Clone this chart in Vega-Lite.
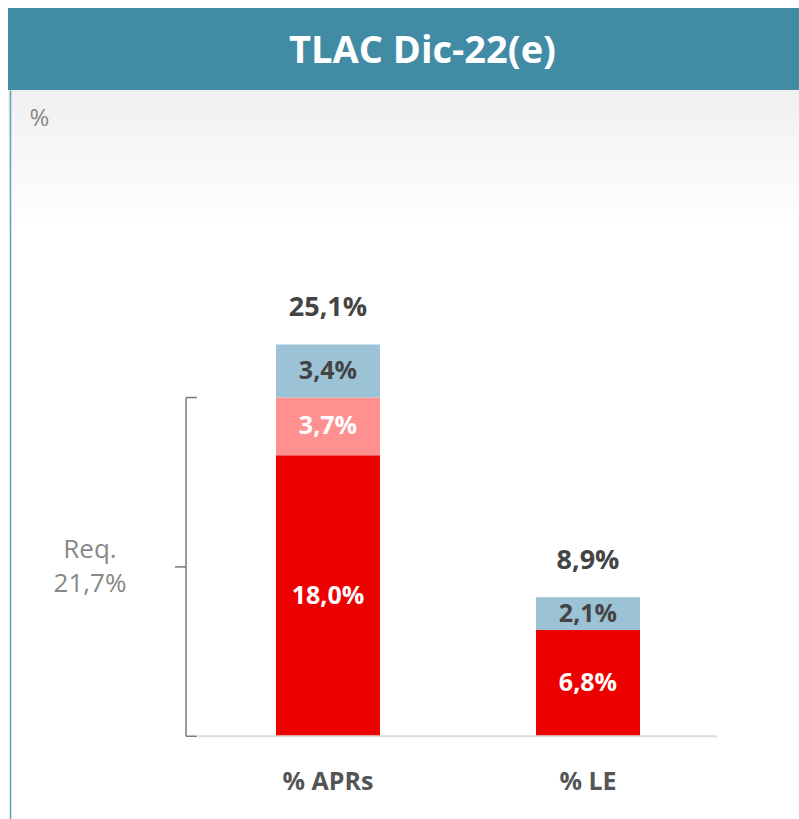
{
  "$schema": "https://vega.github.io/schema/vega-lite/v6.json",
  "padding": {"left": 8, "top": 8, "right": 0, "bottom": 0},
  "background": "#ffffff",
  "spacing": 0,
  "config": {
    "font": "Open Sans",
    "locale": {"number": {"decimal": ",", "thousands": ".", "grouping": [3], "currency": ["", "%"]}},
    "concat": {"spacing": 0}
  },
  "datasets": {
    "bars": [
      {"cat": "% APRs", "comp": "a", "value": 18.0},
      {"cat": "% APRs", "comp": "b", "value": 3.7},
      {"cat": "% APRs", "comp": "c", "value": 3.4},
      {"cat": "% LE", "comp": "a", "value": 6.8},
      {"cat": "% LE", "comp": "c", "value": 2.1}
    ],
    "req": [
      {"cat": "% APRs", "v": 0, "label": "Req.\n21,7%"},
      {"cat": "% APRs", "v": 21.7, "label": "Req.\n21,7%"}
    ],
    "base": [{"cat": "% APRs", "to": "% LE", "value": 0}]
  },
  "vconcat": [
    {
      "width": 791,
      "height": 82,
      "view": {"fill": "#428BA5", "stroke": null},
      "data": {"values": [{"title": "TLAC Dic-22(e)"}]},
      "mark": {"type": "text", "fontWeight": "bold", "fontSize": 38, "color": "#ffffff", "dx": 19, "dy": 3, "baseline": "middle", "align": "center"},
      "encoding": {"text": {"field": "title"}}
    },
    {
      "width": 791,
      "height": 729,
      "view": {"stroke": null, "fill": {"gradient": "linear", "x1": 0, "y1": 0, "x2": 0, "y2": 1, "stops": [{"offset": 0, "color": "#f0f0f0"}, {"offset": 0.19, "color": "#ffffff"}, {"offset": 1, "color": "#ffffff"}]}},
      "encoding": {
        "x": {
          "field": "cat", "type": "nominal",
          "scale": {"domain": ["% APRs", "% LE"], "paddingInner": 0.6, "paddingOuter": 0.821, "align": 0.6276},
          "axis": {"title": null, "domain": false, "ticks": false, "labelAngle": 0, "labelFontSize": 25, "labelFontWeight": "bold", "labelColor": "#555555", "labelPadding": 33, "offset": -83}
        },
        "y": {
          "field": "value", "type": "quantitative",
          "scale": {"domain": [-5.3, 41.4], "nice": false, "zero": false},
          "axis": {"title": "%", "titleAngle": 0, "titleX": 19, "titleY": 35, "titleAlign": "left", "titleBaseline": "alphabetic", "titleFontSize": 24, "titleFontWeight": "normal", "titleColor": "#888888", "labels": false, "ticks": false, "grid": false, "domainColor": "#5EA3B8", "domainWidth": 1.5, "offset": -2}
        }
      },
      "layer": [
        {
          "data": {"name": "bars"},
          "mark": {"type": "bar"},
          "encoding": {
            "y": {"field": "value", "type": "quantitative", "stack": "zero"},
            "color": {"field": "comp", "type": "nominal", "scale": {"domain": ["a", "b", "c"], "range": ["#EC0000", "#FF9090", "#9CC3D5"]}, "legend": null},
            "order": {"field": "comp"}
          }
        },
        {
          "data": {"name": "bars"},
          "mark": {"type": "text", "fontSize": 25, "fontWeight": "bold", "baseline": "middle"},
          "encoding": {
            "y": {"field": "value", "type": "quantitative", "stack": "zero", "bandPosition": 0.5},
            "detail": {"field": "comp"},
            "order": {"field": "comp"},
            "text": {"field": "value", "type": "quantitative", "format": "$.1f"},
            "color": {"condition": {"test": "datum.comp === 'c'", "value": "#444444"}, "value": "#ffffff"}
          }
        },
        {
          "data": {"name": "bars"},
          "mark": {"type": "text", "fontSize": 27, "fontWeight": "bold", "baseline": "middle", "dy": -36, "color": "#444444"},
          "encoding": {
            "y": {"aggregate": "sum", "field": "value", "type": "quantitative"},
            "text": {"aggregate": "sum", "field": "value", "type": "quantitative", "format": "$.1f"}
          }
        },
        {
          "data": {"name": "base"},
          "mark": {"type": "rule", "color": "#dddddd", "strokeWidth": 2},
          "encoding": {
            "x": {"field": "cat", "type": "nominal", "bandPosition": -0.75},
            "x2": {"field": "to", "bandPosition": 1.74}
          }
        },
        {
          "data": {"name": "req"},
          "mark": {"type": "rule", "color": "#777777", "strokeWidth": 1.5},
          "encoding": {
            "x": {"field": "cat", "type": "nominal", "bandPosition": -0.865},
            "y": {"aggregate": "min", "field": "v", "type": "quantitative"},
            "y2": {"aggregate": "max", "field": "v"}
          }
        },
        {
          "data": {"name": "req"},
          "mark": {"type": "rule", "color": "#777777", "strokeWidth": 1.5},
          "encoding": {
            "x": {"field": "cat", "type": "nominal", "bandPosition": -0.865},
            "x2": {"field": "cat", "bandPosition": -0.76},
            "y": {"field": "v", "type": "quantitative"}
          }
        },
        {
          "data": {"name": "req"},
          "mark": {"type": "rule", "color": "#777777", "strokeWidth": 1.5},
          "encoding": {
            "x": {"field": "cat", "type": "nominal", "bandPosition": -0.971},
            "x2": {"field": "cat", "bandPosition": -0.865},
            "y": {"aggregate": "mean", "field": "v", "type": "quantitative"}
          }
        },
        {
          "data": {"name": "req"},
          "mark": {"type": "text", "fontSize": 26, "color": "#888888", "lineBreak": "\n", "lineHeight": 34, "align": "center", "baseline": "middle", "dy": -17},
          "encoding": {
            "x": {"field": "cat", "type": "nominal", "bandPosition": -1.788},
            "y": {"aggregate": "mean", "field": "v", "type": "quantitative"},
            "text": {"field": "label"}
          }
        }
      ]
    }
  ]
}
